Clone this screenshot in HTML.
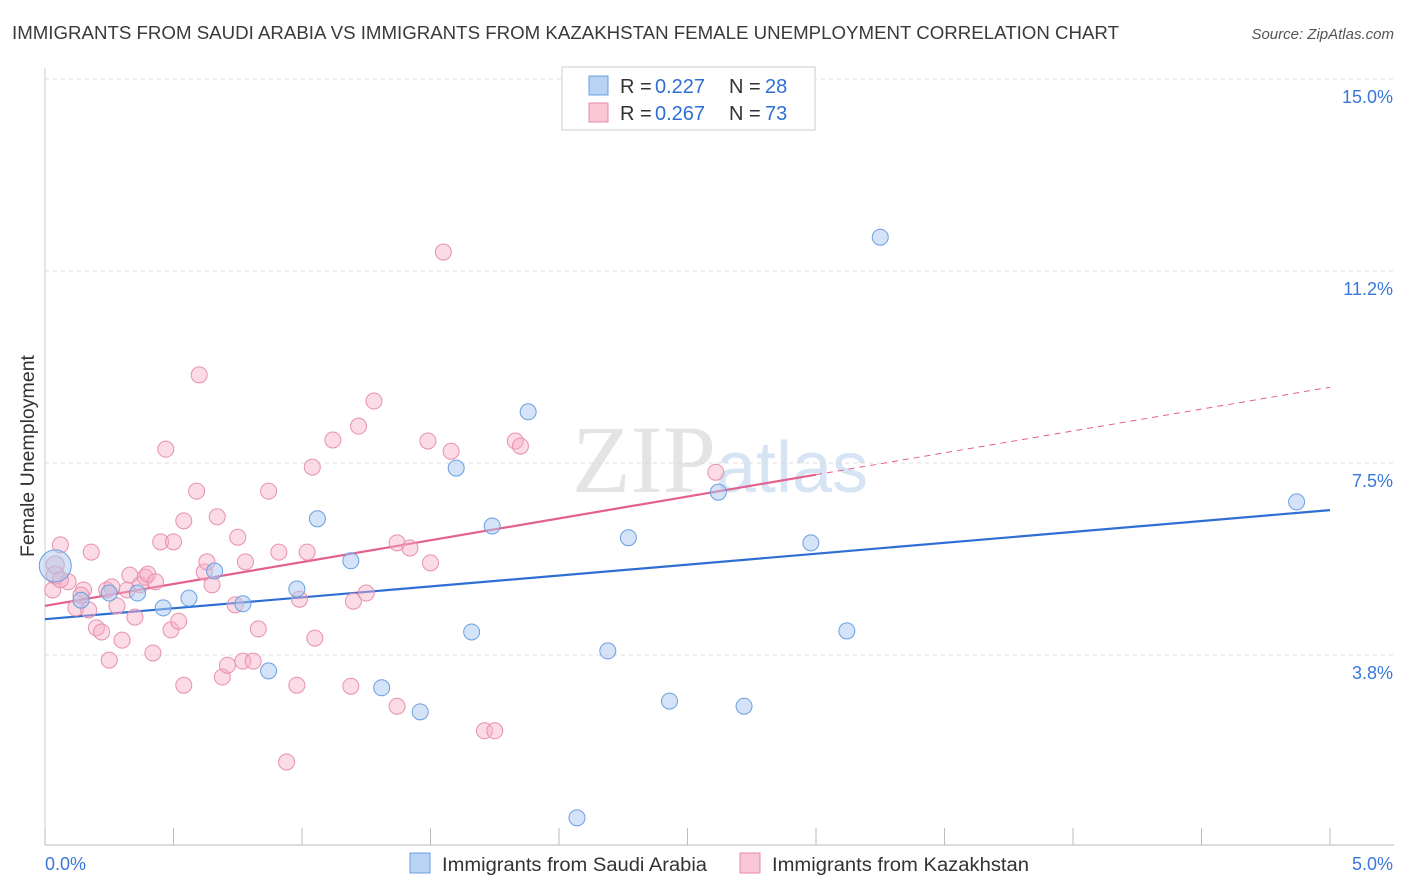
<!DOCTYPE html>
<html><head><meta charset="utf-8">
<style>
body{margin:0;background:#fff;font-family:"Liberation Sans",sans-serif;}
svg{display:block}
</style></head>
<body>
<svg id="chart" width="1406" height="892">
<text x="12" y="39" font-size="18" fill="#3a3a3a" textLength="1107" lengthAdjust="spacingAndGlyphs">IMMIGRANTS FROM SAUDI ARABIA VS IMMIGRANTS FROM KAZAKHSTAN FEMALE UNEMPLOYMENT CORRELATION CHART</text>
<text x="1394" y="39" font-size="15" fill="#555" font-style="italic" text-anchor="end">Source: ZipAtlas.com</text>
<text x="0" y="0" transform="translate(34,456) rotate(-90)" font-size="19" fill="#333" text-anchor="middle" textLength="202" lengthAdjust="spacingAndGlyphs">Female Unemployment</text>
<text x="720" y="492" font-size="96" fill="#e4e4e4" text-anchor="middle" font-family="Liberation Serif,serif">ZIP<tspan fill="#d6e4f4" font-family="Liberation Sans,sans-serif" font-size="72">atlas</tspan></text>
<g id="grid"></g>
<g id="axes"></g>
<g id="lines"></g>
<g id="pts"></g>
<g>
<rect x="562" y="67" width="253" height="63" fill="#fff" stroke="#ccc"/>
<rect x="589" y="76" width="19" height="19" fill="#b9d3f5" stroke="#6a9fe0"/>
<rect x="589" y="103" width="19" height="19" fill="#f9c6d5" stroke="#e68aa8"/>
<text y="93" font-size="20" fill="#333"><tspan x="620">R = </tspan><tspan x="655" fill="#2f6fd4">0.227</tspan><tspan x="729">N = </tspan><tspan x="765" fill="#2f6fd4">28</tspan></text>
<text y="120" font-size="20" fill="#333"><tspan x="620">R = </tspan><tspan x="655" fill="#2f6fd4">0.267</tspan><tspan x="729">N = </tspan><tspan x="765" fill="#2f6fd4">73</tspan></text>
</g>
<g>
<rect x="410" y="853" width="20" height="20" fill="#b9d3f5" stroke="#6a9fe0"/>
<text x="442" y="871" font-size="19" fill="#333" textLength="265" lengthAdjust="spacingAndGlyphs">Immigrants from Saudi Arabia</text>
<rect x="740" y="853" width="20" height="20" fill="#f9c6d5" stroke="#e68aa8"/>
<text x="772" y="871" font-size="19" fill="#333" textLength="257" lengthAdjust="spacingAndGlyphs">Immigrants from Kazakhstan</text>
</g>
</svg>
<script>
const blueX=[0.04,0.14,0.25,0.36,0.46,0.56,0.66,0.77,0.87,0.98,1.06,1.19,1.31,1.46,1.60,1.66,1.74,1.88,2.07,2.19,2.27,2.43,2.62,2.72,2.98,3.12,3.25,4.87];
const blueY=[5.49,4.82,4.96,4.96,4.67,4.86,5.39,4.75,3.44,5.04,6.41,5.59,3.11,2.64,7.40,4.20,6.27,8.50,0.57,3.83,6.04,2.85,6.93,2.75,5.94,4.22,11.91,6.74];
const pinkX=[0.04,0.04,0.06,0.03,0.09,0.12,0.15,0.17,0.18,0.20,0.22,0.24,0.25,0.26,0.28,0.30,0.32,0.33,0.35,0.37,0.39,0.40,0.42,0.43,0.45,0.47,0.49,0.50,0.52,0.54,0.54,0.59,0.60,0.62,0.63,0.65,0.67,0.69,0.71,0.74,0.75,0.77,0.78,0.81,0.83,0.87,0.91,0.94,0.98,0.99,1.02,1.04,1.05,1.12,1.19,1.20,1.22,1.25,1.28,1.37,1.37,1.42,1.49,1.50,1.55,1.58,1.71,1.75,1.83,1.85,2.61,0.06,0.14];
const pinkY=[5.51,5.31,5.90,5.02,5.18,4.67,5.02,4.63,5.76,4.28,4.20,5.02,3.65,5.08,4.71,4.04,5.02,5.31,4.49,5.12,5.27,5.33,3.79,5.18,5.96,7.77,4.24,5.96,4.41,3.16,6.37,6.95,9.22,5.37,5.57,5.12,6.45,3.32,3.55,4.73,6.05,3.63,5.57,3.63,4.26,6.95,5.76,1.66,3.16,4.84,5.76,7.42,4.08,7.95,3.14,4.80,8.22,4.96,8.71,2.75,5.94,5.84,7.93,5.55,11.62,7.73,2.27,2.27,7.93,7.83,7.32,5.22,4.92];
const blueTrend=[4.45,6.58];
const pinkTrend=[4.71,8.98];
const pinkSolidEnd=3.0;
const yTicks=[15.0,11.25,7.5,3.75];
const yTickLabels=["15.0%","11.2%","7.5%","3.8%"];
const xTickVals=[0,0.5,1,1.5,2,2.5,3,3.5,4,4.5,5];

const NS="http://www.w3.org/2000/svg";
const X=v=>45+v*257, Y=v=>79+(15-v)*51.2;
function mk(tag,attrs,parent){const e=document.createElementNS(NS,tag);for(const k in attrs)e.setAttribute(k,attrs[k]);parent.appendChild(e);return e;}
const grid=document.getElementById('grid'),axes=document.getElementById('axes'),lines=document.getElementById('lines'),pts=document.getElementById('pts');
yTicks.forEach((t,i)=>{
 const l=mk('line',{x1:45,x2:1394,y1:Y(t),y2:Y(t),stroke:'#ddd','stroke-dasharray':'4,4'},grid);
 
 
 const tx=mk('text',{x:1393,y:Y(t)+24,'font-size':18,fill:'#3a78d8','text-anchor':'end'},axes);
 tx.textContent=yTickLabels[i];
 
 
});
const ax=mk('line',{x1:45,x2:1394,y1:845,y2:845,stroke:'#bbb'},axes);


const ay=mk('line',{x1:45,x2:45,y1:68,y2:845,stroke:'#ccc'},axes);


xTickVals.forEach(v=>{
 const t=mk('line',{x1:X(v),x2:X(v),y1:828,y2:845,stroke:'#bbb'},axes);
 
 
});
const xl0=mk('text',{x:45,y:870,'font-size':18,fill:'#3a78d8'},axes);xl0.textContent='0.0%';


const xl1=mk('text',{x:1393,y:870,'font-size':18,fill:'#3a78d8','text-anchor':'end'},axes);xl1.textContent='5.0%';



pinkX.forEach((x,i)=>{
 const c=mk('circle',{cx:X(x),cy:Y(pinkY[i]),r:i<2?9:8,fill:'rgba(246,176,198,0.45)',stroke:'#e890ad','stroke-width':1},pts);
 
 
});
blueX.forEach((x,i)=>{
 const c=mk('circle',{cx:X(x),cy:Y(blueY[i]),r:i==0?16:8,fill:'rgba(170,200,240,0.5)',stroke:'#6a9fe0','stroke-width':1},pts);
 
 
});
const pAt=x=>pinkTrend[0]+(pinkTrend[1]-pinkTrend[0])*x/5;
const bl=mk('line',{x1:X(0),y1:Y(blueTrend[0]),x2:X(5),y2:Y(blueTrend[1]),stroke:'#2f6fd4','stroke-width':2.2},lines);


const pl=mk('line',{x1:X(0),y1:Y(pinkTrend[0]),x2:X(pinkSolidEnd),y2:Y(pAt(pinkSolidEnd)),stroke:'#e4608e','stroke-width':2.2},lines);


const pd=mk('line',{x1:X(pinkSolidEnd),y1:Y(pAt(pinkSolidEnd)),x2:X(5),y2:Y(pinkTrend[1]),stroke:'#e4608e','stroke-width':1,'stroke-dasharray':'6,5'},lines);


</script>
</body></html>
